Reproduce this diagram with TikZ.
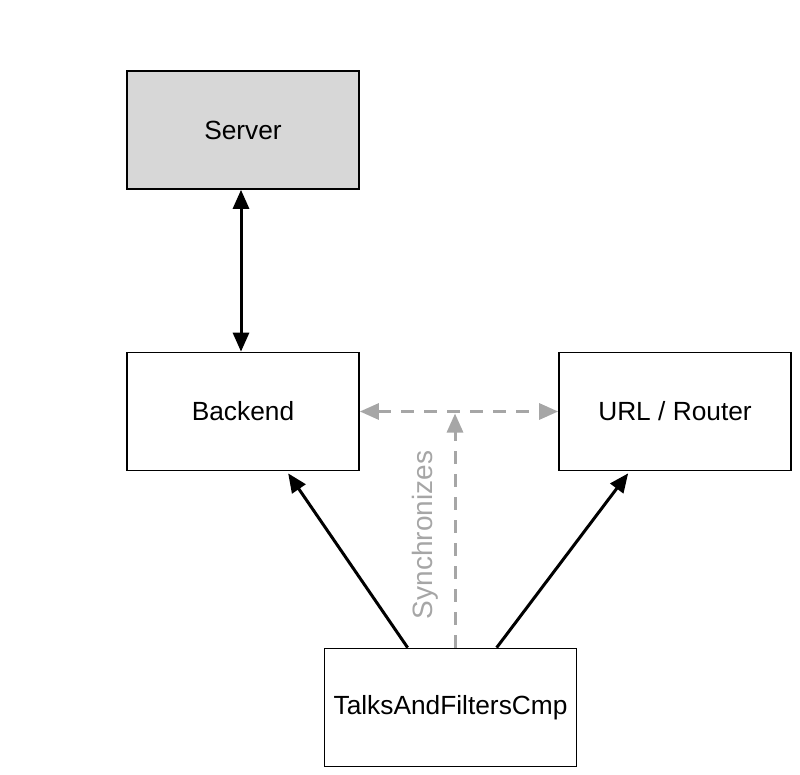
\documentclass[tikz,border=0pt]{standalone}
\usepackage{fontspec}
\setmainfont{Liberation Sans}
\usetikzlibrary{arrows.meta,calc}
\definecolor{boxgray}{HTML}{D7D7D7}
\definecolor{linkgray}{HTML}{A6A6A6}
\begin{document}
\begin{tikzpicture}[x=1pt,y=-1pt,
  box/.style={draw=black,line width=1.7pt,inner sep=0pt,minimum width=232pt,minimum height=118pt,font=\fontsize{26.3}{30}\selectfont},
  solidlink/.style={line width=3pt,-{Triangle[length=19pt,width=16pt]}},
  dashlink/.style={linkgray,line width=3pt,dash pattern=on 13pt off 10pt,-{Triangle[length=19pt,width=16pt]}}]
\useasboundingbox (0,0) rectangle (800,775);
\node[box,fill=boxgray] (server) at (243,130) {Server};
\node[box] (backend) at (243,411.5) {Backend};
\node[box] (url) at (675,411.5) {URL / Router};
\node[box,minimum width=252pt] (cmp) at (450.5,707.5) {TalksAndFiltersCmp};
\draw[line width=3pt,{Triangle[length=19pt,width=16pt]}-{Triangle[length=19pt,width=16pt]}] ($(server.south)+(-2,0)$) -- ($(backend.north)+(-2,0)$);
\draw[dashlink,{Triangle[length=19pt,width=16pt]}-{Triangle[length=19pt,width=16pt]}] (backend.east) -- (url.west);
\coordinate (mid) at (455,411.5);
\draw[dashlink] (cmp.north -| mid) -- ($(mid)+(0,2)$);
\node[linkgray,rotate=90,inner sep=0pt,font=\fontsize{28}{32}\selectfont] (sync) at (425,535) {Synchronizes};
\draw[solidlink] ($(cmp.north west)+(84,0)$) -- ($(backend.south west)+(162,2)$);
\draw[solidlink] ($(cmp.north west)+(173,0)$) -- ($(url.south west)+(70,2)$);
\end{tikzpicture}
\end{document}
